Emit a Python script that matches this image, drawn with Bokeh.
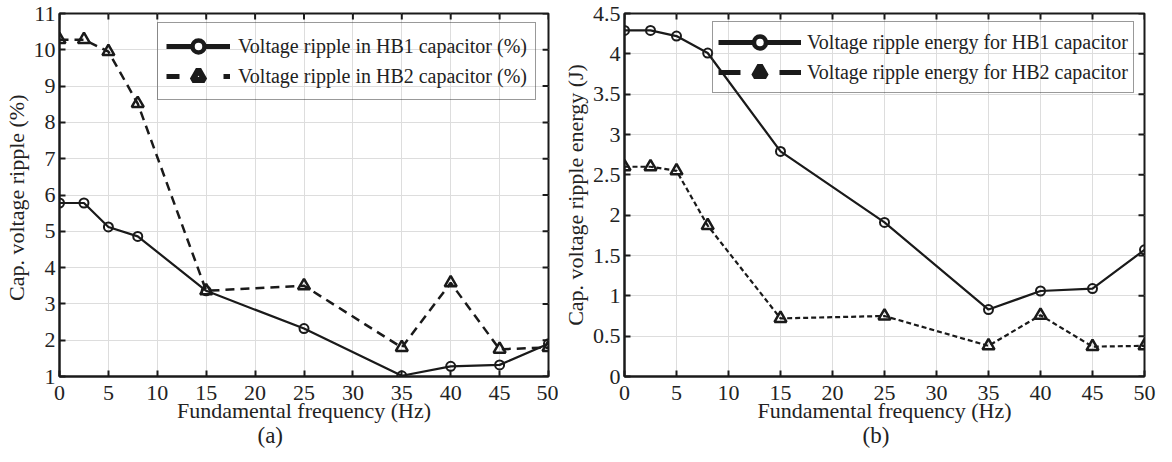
import numpy as np
from bokeh.plotting import figure
from bokeh.models import (Range1d, FixedTicker, Legend, LegendItem,
                          Title, NumeralTickFormatter)
from bokeh.layouts import row
from bokeh.embed import file_html
from bokeh.resources import INLINE

# ---------------- data ----------------
freq = [0, 2.5, 5, 8, 15, 25, 35, 40, 45, 50]
ripple_hb1 = [5.78, 5.78, 5.12, 4.86, 3.36, 2.32, 1.02, 1.28, 1.32, 1.90]
ripple_hb2 = [10.28, 10.28, 9.95, 8.52, 3.36, 3.50, 1.80, 3.58, 1.75, 1.80]
energy_hb1 = [4.29, 4.29, 4.22, 4.01, 2.79, 1.91, 0.83, 1.06, 1.09, 1.57]
energy_hb2 = [2.60, 2.60, 2.55, 1.87, 0.72, 0.75, 0.38, 0.76, 0.37, 0.38]

x_ticks = [0, 5, 10, 15, 20, 25, 30, 35, 40, 45, 50]
ripple_ticks = [1, 2, 3, 4, 5, 6, 7, 8, 9, 10, 11]
energy_ticks = [0, 0.5, 1, 1.5, 2, 2.5, 3, 3.5, 4, 4.5]

label_ripple_hb1 = "Voltage ripple in HB1 capacitor (%)"
label_ripple_hb2 = "Voltage ripple in HB2 capacitor (%)"
label_energy_hb1 = "Voltage ripple energy for HB1 capacitor"
label_energy_hb2 = "Voltage ripple energy for HB2 capacitor"

FONT = "Liberation Serif"
INK = "#1a1a1a"
TXT = "#222222"
GRID = "#dddddd"
H = 454
TOP, BOTTOM = 13, 78
FRAME_H = H - TOP - BOTTOM
TICK_PX = 6


def style_axis(ax, ticks):
    ax.ticker = FixedTicker(ticks=ticks)
    ax.axis_line_color = INK
    ax.axis_line_width = 2
    ax.major_tick_line_color = INK
    ax.major_tick_line_width = 2
    ax.major_tick_in = TICK_PX
    ax.major_tick_out = 0
    ax.minor_tick_line_color = None
    ax.major_label_text_font = FONT
    ax.major_label_text_font_size = "22px"
    ax.major_label_text_color = TXT
    ax.axis_label_text_font = FONT
    ax.axis_label_text_font_size = "22px"
    ax.axis_label_text_font_style = "normal"
    ax.axis_label_text_color = TXT


def make_fig(width, bl, br, yr, yticks, ylabel, caption, cap_offset):
    p = figure(width=width, height=H, x_range=Range1d(0, 50),
               y_range=Range1d(*yr), output_backend="svg",
               toolbar_location=None, min_border_left=bl,
               min_border_right=br, min_border_top=TOP,
               min_border_bottom=BOTTOM)
    p.outline_line_color = INK
    p.outline_line_width = 2
    p.background_fill_color = "white"
    p.border_fill_color = "white"

    style_axis(p.xaxis[0], x_ticks)
    style_axis(p.yaxis[0], yticks)
    p.xaxis.axis_label = "Fundamental frequency (Hz)"
    p.yaxis.axis_label = ylabel
    p.xaxis.major_label_standoff = 9
    p.xaxis.axis_label_standoff = -5
    p.yaxis.major_label_standoff = 4
    p.yaxis.axis_label_standoff = 2

    p.grid.grid_line_color = GRID
    p.grid.grid_line_width = 1

    # inward ticks on the top and right edges of the frame
    frame_w = width - bl - br
    dy = TICK_PX * (yr[1] - yr[0]) / FRAME_H
    dx = TICK_PX * 50.0 / frame_w
    n = len(x_ticks)
    p.segment(x0=x_ticks, y0=[yr[1]] * n, x1=x_ticks, y1=[yr[1] - dy] * n,
              line_color=INK, line_width=2)
    m = len(yticks)
    p.segment(x0=[50] * m, y0=yticks, x1=[50 - dx] * m, y1=yticks,
              line_color=INK, line_width=2)

    p.add_layout(Title(text=caption, align="left", offset=cap_offset, standoff=-10,
                       text_font=FONT, text_font_size="23px",
                       text_font_style="normal", text_color=TXT), "below")
    return p


def make_legend(items, glyph_width, padding, loc, standoff):
    return Legend(items=items, location=loc, margin=0,
                  padding=padding, spacing=0, glyph_width=glyph_width,
                  glyph_height=30, label_height=28, label_standoff=standoff,
                  label_text_font=FONT, label_text_font_size="20px",
                  label_text_color=TXT, border_line_color="#333333",
                  border_line_width=1, background_fill_alpha=0)


nan = [np.nan]

# ---------------- (a) ----------------
p1 = make_fig(558, 51, 10, (1, 11), ripple_ticks,
              "Cap. voltage ripple  (%)", "(a)", 198)

p1.line(freq, ripple_hb1, line_color=INK, line_width=2.2)
p1.scatter(freq, ripple_hb1, marker="circle", size=9, line_color=INK,
           line_width=2, fill_alpha=0)
p1.line(freq, ripple_hb2, line_color=INK, line_width=2.5, line_dash="9 6")
p1.scatter(freq, ripple_hb2, marker="triangle", size=12, line_color=INK,
           line_width=2.5, fill_alpha=0)

l1a = p1.line(nan, nan, line_color=INK, line_width=5)
l1b = p1.scatter(nan, nan, marker="circle", line_color=INK, line_width=4.5,
                 fill_color="white")
l2a = p1.line(nan, nan, line_color=INK, line_width=5, line_dash="13 44 7 60")
l2b = p1.scatter(nan, nan, marker="triangle", line_color=INK, line_width=6,
                 fill_color="white")
leg1_h = 2 * 30 + 2 * 8
p1.add_layout(make_legend(
    [LegendItem(label=label_ripple_hb1, renderers=[l1a, l1b]),
     LegendItem(label=label_ripple_hb2, renderers=[l2a, l2b])],
    64, 8, (98, FRAME_H - 11 - leg1_h), 8))

# ---------------- (b) ----------------
p2 = make_fig(598, 66, 12, (0, 4.5), energy_ticks,
              "Cap. voltage ripple energy (J)", "(b)", 238)
p2.yaxis[0].formatter = NumeralTickFormatter(format="0.[0]")

p2.line(freq, energy_hb1, line_color=INK, line_width=2.2)
p2.scatter(freq, energy_hb1, marker="circle", size=9, line_color=INK,
           line_width=2, fill_alpha=0)
p2.line(freq, energy_hb2, line_color=INK, line_width=2.2, line_dash="5 3")
p2.scatter(freq, energy_hb2, marker="triangle", size=12, line_color=INK,
           line_width=2.5, fill_alpha=0)

m1a = p2.line(nan, nan, line_color=INK, line_width=5)
m1b = p2.scatter(nan, nan, marker="circle", line_color=INK, line_width=4.5,
                 fill_color="white")
m2a = p2.line(nan, nan, line_color=INK, line_width=5, line_dash="22 39")
m2b = p2.scatter(nan, nan, marker="triangle", line_color=INK, line_width=6,
                 fill_color=INK)
leg2_h = 2 * 30 + 2 * 5
p2.add_layout(make_legend(
    [LegendItem(label=label_energy_hb1, renderers=[m1a, m1b]),
     LegendItem(label=label_energy_hb2, renderers=[m2a, m2b])],
    83, 5, (88, FRAME_H - 10 - leg2_h), 6))

layout = row(p1, p2)
open("out.html", "w").write(file_html(layout, INLINE))
